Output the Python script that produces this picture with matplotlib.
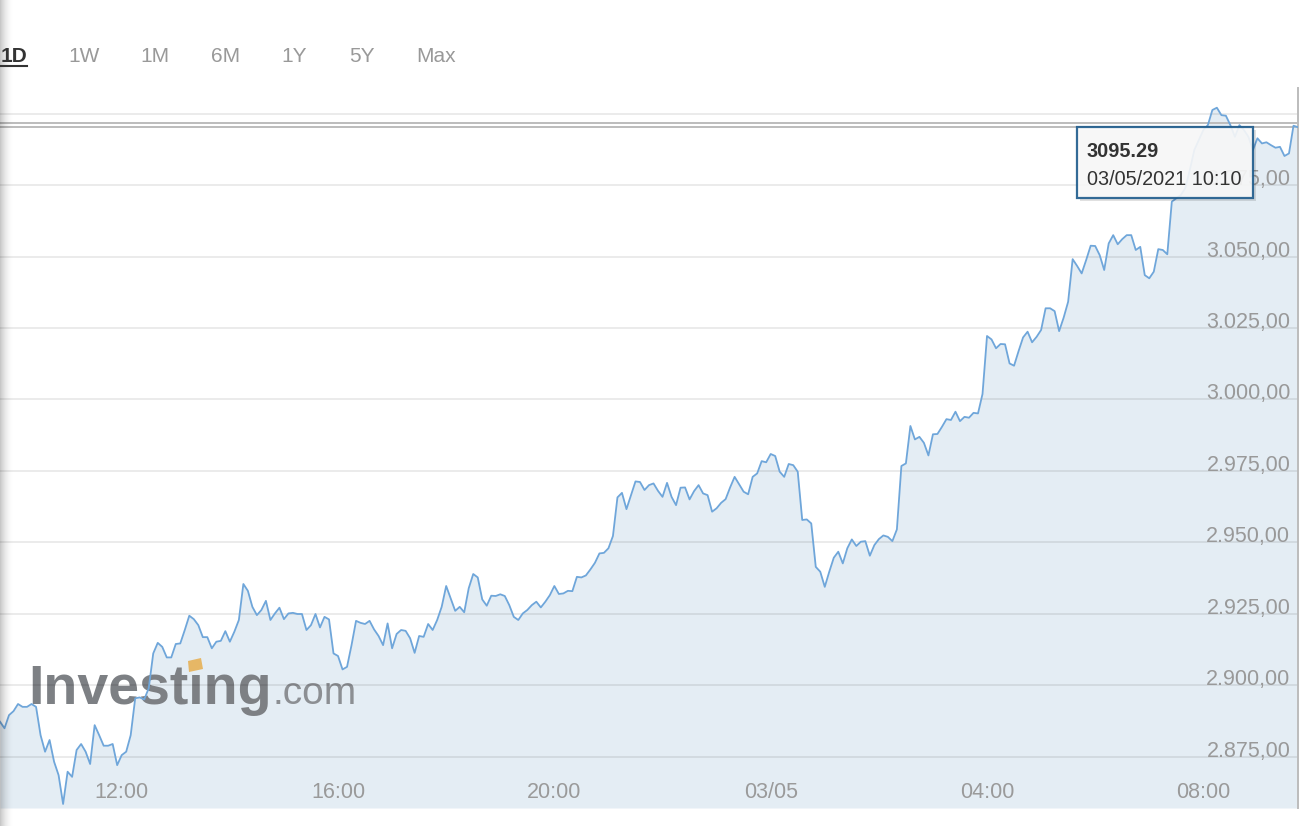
import numpy as np
import pandas as pd
import matplotlib.pyplot as plt
from matplotlib.patches import Rectangle, Polygon
from matplotlib.lines import Line2D

plt.rcParams['font.family'] = ['Liberation Sans', 'DejaVu Sans']

# === data: 5-minute quotes, 02/05 09:45 -> 03/05 09:45 ===
start_time = "2021-05-02 09:45"
prices = [
    2887.2, 2884.9, 2889.5, 2890.9, 2893.4, 2892.4, 2892.4, 2893.4, 2892.4, 2882.5, 2876.7, 2880.8,
    2873.2, 2868.5, 2858.4, 2869.7, 2867.9, 2877.3, 2879.4, 2876.7, 2872.4, 2886.0, 2882.5, 2878.8,
    2878.8, 2879.4, 2872.0, 2875.5, 2876.7, 2882.5, 2895.4, 2895.7, 2895.0, 2898.9, 2911.1, 2914.8,
    2913.4, 2909.7, 2909.7, 2914.4, 2914.6, 2919.3, 2924.3, 2923.1, 2921.0, 2916.8, 2916.8, 2912.9,
    2915.2, 2915.5, 2918.9, 2915.2, 2918.7, 2922.8, 2935.4, 2933.0, 2927.4, 2924.5, 2926.3, 2929.5,
    2922.8, 2925.1, 2927.1, 2923.1, 2925.1, 2925.3, 2924.9, 2924.9, 2919.3, 2921.0, 2924.9, 2920.2,
    2923.9, 2923.0, 2911.1, 2910.2, 2905.5, 2906.4, 2914.0, 2922.5, 2921.8, 2921.4, 2922.5, 2919.5,
    2917.2, 2914.0, 2921.6, 2912.9, 2917.9, 2919.3, 2919.0, 2916.4, 2911.3, 2917.2, 2916.9, 2921.4,
    2919.3, 2922.8, 2927.4, 2934.7, 2930.4, 2926.0, 2927.4, 2925.5, 2933.9, 2938.9, 2937.7, 2930.0,
    2927.8, 2931.3, 2931.2, 2931.8, 2931.2, 2928.0, 2923.9, 2922.8, 2925.1, 2926.3, 2928.0, 2929.2,
    2927.2, 2929.2, 2931.5, 2934.7, 2931.9, 2932.1, 2933.0, 2932.9, 2937.9, 2937.7, 2938.4, 2940.5,
    2942.8, 2946.1, 2946.3, 2947.9, 2952.2, 2965.7, 2967.3, 2961.6, 2966.5, 2971.3, 2971.1, 2968.3,
    2970.0, 2970.6, 2968.0, 2965.9, 2970.8, 2965.9, 2963.0, 2969.1, 2969.2, 2965.0, 2967.9, 2970.0,
    2967.1, 2966.5, 2960.7, 2961.9, 2963.8, 2965.1, 2969.2, 2972.9, 2970.3, 2967.7, 2966.8, 2972.9,
    2974.1, 2978.4, 2978.0, 2980.9, 2980.2, 2974.7, 2972.9, 2977.4, 2977.0, 2974.7, 2957.8, 2958.0,
    2956.6, 2941.4, 2939.7, 2934.4, 2939.7, 2944.6, 2946.7, 2942.6, 2947.9, 2951.0, 2948.7, 2950.2,
    2950.4, 2945.3, 2949.0, 2951.1, 2952.4, 2951.9, 2950.4, 2954.5, 2976.7, 2977.6, 2990.7, 2986.0,
    2986.9, 2984.8, 2980.4, 2987.8, 2987.9, 2990.4, 2993.1, 2992.8, 2995.7, 2992.4, 2993.9, 2993.6,
    2995.3, 2995.1, 3001.9, 3022.2, 3021.0, 3017.9, 3019.4, 3019.3, 3012.6, 3011.8, 3016.9, 3021.7,
    3023.7, 3020.0, 3021.9, 3024.3, 3031.9, 3031.9, 3030.9, 3023.9, 3028.6, 3034.2, 3049.1, 3046.7,
    3044.1, 3048.8, 3053.8, 3053.7, 3050.5, 3045.3, 3054.6, 3057.5, 3054.3, 3056.1, 3057.5, 3057.5,
    3052.3, 3053.4, 3043.5, 3042.4, 3044.7, 3052.6, 3052.3, 3050.8, 3069.2, 3070.4, 3071.5, 3074.0,
    3080.3, 3087.3, 3090.8, 3094.3, 3096.0, 3101.3, 3102.1, 3099.5, 3099.3, 3096.0, 3091.9, 3096.0,
    3094.3, 3091.9, 3087.3, 3091.4, 3089.6, 3090.0, 3089.0, 3088.1, 3088.4, 3085.2, 3086.1, 3095.8,
    3095.29,
]
hover_price = 3096.8
tooltip_value = "3095.29"
tooltip_time = "03/05/2021 10:10"

tick_times = ["2021-05-02 12:00", "2021-05-02 16:00", "2021-05-02 20:00",
              "2021-05-03 00:00", "2021-05-03 04:00", "2021-05-03 08:00"]
tick_labels = ["12:00", "16:00", "20:00", "03/05", "04:00", "08:00"]
y_ticks = [2875, 2900, 2925, 2950, 2975, 3000, 3025, 3050, 3075, 3100]
y_min, y_max = 2857.0, 3109.0

range_buttons = ["1D", "1W", "1M", "6M", "1Y", "5Y", "Max"]
button_x = [14, 84, 155, 226, 294, 362, 436]

times = pd.date_range(start_time, periods=len(prices), freq="5min")

# === figure ===
W, H = 1312, 826
fig = plt.figure(figsize=(W / 100, H / 100), dpi=100)
ax = fig.add_axes([0, 18 / H, 1298 / W, 720 / H])

ax.fill_between(times, prices, y_min, color="#e4edf4", lw=0, zorder=1)
ax.plot(times, prices, color="#6fa6da", lw=1.3, zorder=3)

ax.axhline(prices[-1], color="#bcbcbc", lw=1.4, zorder=2.5)
ax.axhline(hover_price, color="#bcbcbc", lw=1.4, zorder=2.5)
ax.axvline(times[-1], color="#bcbcbc", lw=1.4, zorder=2.5, clip_on=False)

ax.set_xlim(times[0], times[-1])
ax.set_ylim(y_min, y_max)
for s in ax.spines.values():
    s.set_visible(False)

ax.set_axisbelow("line")
ax.grid(axis="y", color="black", alpha=0.1, lw=1.1)

# y labels inside on the right, sitting on the gridlines
fmt = lambda v: f"{v:,.2f}".replace(",", "X").replace(".", ",").replace("X", ".")
ax.yaxis.tick_right()
ax.set_yticks(y_ticks, labels=[fmt(v) if v < 3100 else "" for v in y_ticks])
ax.tick_params(axis="y", length=0, pad=-5.5, labelsize=15.5, labelcolor="#999999")
plt.setp(ax.get_yticklabels(), ha="right", va="baseline")

ax.set_xticks(pd.to_datetime(tick_times), labels=tick_labels)
ax.tick_params(axis="x", length=0, pad=-18.5, labelsize=15.5, labelcolor="#9a9a9a")

# === watermark ===
ax.text(28 / W, 1 - 704 / H, "Investıng", transform=fig.transFigure, fontsize=40,
        fontweight="bold", color="#7d8084", zorder=1.2, va="baseline")
ax.text(272 / W, 1 - 704 / H, ".com", transform=fig.transFigure, fontsize=28,
        color="#8c8f93", zorder=1.2, va="baseline")
mark = [(189, 672), (203, 669), (201, 658), (188, 661)]
ax.add_patch(Polygon([(x / W, 1 - y / H) for x, y in mark], closed=True,
                     transform=fig.transFigure, color="#e6b766", lw=0, zorder=1.3))

# === range buttons ===
for label, x in zip(range_buttons, button_x):
    active = label == "1D"
    fig.text(x / W, 1 - 62.5 / H, label, ha="center", va="baseline", fontsize=15,
             fontweight="bold" if active else "normal",
             color="#333333" if active else "#999999")
fig.add_artist(Line2D([0, 27 / W], [1 - 65.5 / H] * 2, color="#333333", lw=1.5))

# === tooltip ===
bx0, by0, bx1, by1 = 1077, 127, 1253, 198
fig.add_artist(Rectangle(((bx0 + 3) / W, 1 - (by1 + 3) / H), (bx1 - bx0) / W, (by1 - by0) / H,
                         facecolor="#000000", alpha=0.12, lw=0, transform=fig.transFigure))
fig.add_artist(Rectangle((bx0 / W, 1 - by1 / H), (bx1 - bx0) / W, (by1 - by0) / H,
                         facecolor="#fafafa", alpha=0.9, edgecolor="#1d5b8c", lw=1.6,
                         transform=fig.transFigure))
fig.text(1087 / W, 1 - 157.3 / H, tooltip_value, fontsize=14.3, fontweight="bold",
         color="#333333", va="baseline")
fig.text(1087 / W, 1 - 185 / H, tooltip_time, fontsize=14.3, color="#333333", va="baseline")

# === left browser shadow ===
sh = fig.add_axes([0, 0, 14 / W, 1])
alpha = (1 - np.linspace(0, 1, 14)) ** 2 * 0.22
grad = np.zeros((1, 14, 4))
grad[..., 3] = alpha
sh.imshow(grad, aspect="auto", extent=[0, 1, 0, 1])
sh.set_axis_off()

fig.savefig("out.png", dpi=100)
